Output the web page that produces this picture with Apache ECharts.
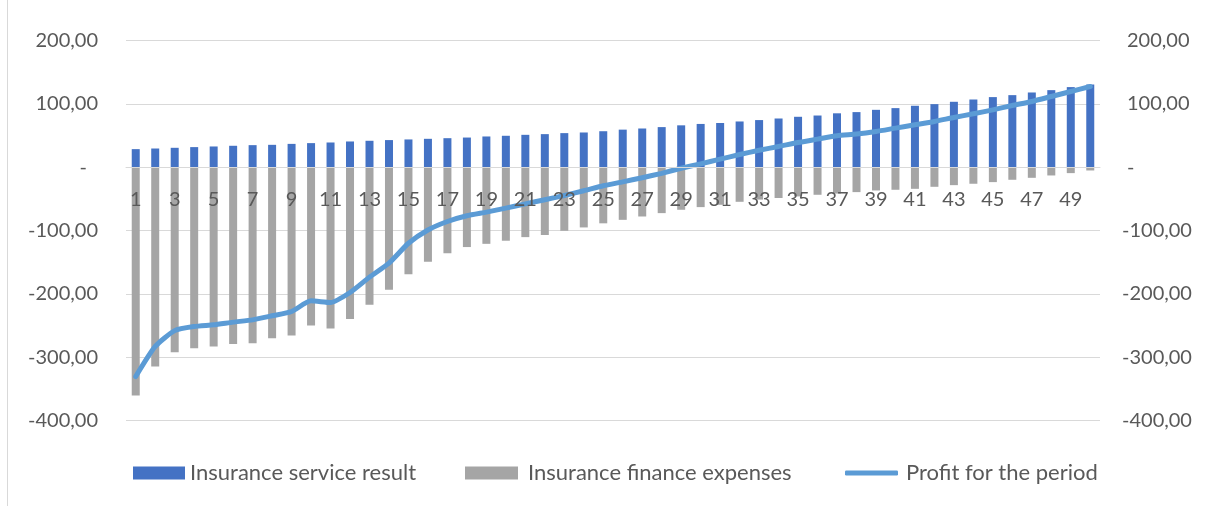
<!DOCTYPE html>
<html>
<head>
<meta charset="utf-8">
<script src="https://cdn.jsdelivr.net/npm/echarts@6/dist/echarts.min.js"></script>
<style>
  html, body { margin: 0; padding: 0; background: #ffffff; }
  #chart { width: 1209px; height: 506px; }
</style>
</head>
<body>
<div id="chart"></div>
<script>
// Periods 1..50
const periods = Array.from({ length: 50 }, (_, i) => String(i + 1));

// Insurance service result (positive bars)
const serviceResult = [
  28.7, 29.7, 30.8, 31.9, 32.9, 34.0, 35.0, 35.5, 37.0, 38.2,
  39.2, 40.8, 41.9, 43.0, 44.0, 45.0, 46.0, 47.0, 48.7, 49.8,
  51.3, 52.4, 54.0, 55.0, 57.0, 59.5, 61.3, 63.5, 66.3, 68.5,
  70.0, 72.4, 74.6, 77.1, 79.8, 81.8, 85.3, 87.2, 90.8, 93.5,
  97.2, 99.8, 103.5, 107.1, 110.9, 114.0, 118.2, 121.9, 126.7, 130.8
];

// Insurance finance expenses (negative bars)
const financeExpenses = [
  -360.5, -314.6, -292.0, -286.0, -283.0, -279.0, -277.8, -270.0, -265.7, -250.0,
  -254.6, -239.8, -217.0, -193.5, -168.8, -149.3, -135.6, -126.0, -120.9, -116.0,
  -110.3, -107.0, -100.3, -95.0, -88.5, -83.0, -77.7, -72.4, -67.1, -62.9,
  -59.2, -54.5, -51.0, -48.5, -46.0, -43.4, -41.5, -39.2, -36.6, -35.5,
  -34.0, -30.8, -28.2, -26.0, -23.4, -19.7, -16.6, -12.9, -9.2, -5.0
];

// Profit for the period (line)
const profit = [
  -330.5, -283.0, -258.0, -251.5, -248.8, -244.6, -241.0, -234.6, -227.8, -211.0,
  -213.6, -197.8, -173.5, -151.4, -120.0, -99.0, -85.6, -76.6, -70.8, -64.5,
  -57.7, -51.3, -44.5, -37.1, -29.2, -23.0, -16.5, -9.5, -1.5, 5.5,
  12.9, 20.2, 27.0, 32.9, 39.2, 44.5, 49.8, 52.5, 56.6, 61.9,
  67.1, 72.4, 78.7, 84.5, 90.8, 97.6, 104.0, 111.8, 119.7, 127.6
];

const seriesNames = ['Insurance service result', 'Insurance finance expenses', 'Profit for the period'];

const FONT = 'Lato';
const TEXT = '#595959';
const GRID = '#D9D9D9';

const Y_MIN = -400;
const Y_MAX = 200;
const GRID_TOP = 40.7;
const GRID_BOTTOM = 85.5;
const CHART_H = 506;

function fmt(v) {
  return Math.abs(v).toFixed(2).replace('.', ',');
}

// the category axis sits on the zero line of the value axis
const plotH = CHART_H - GRID_TOP - GRID_BOTTOM;
const zeroOffset = -plotH * (0 - Y_MIN) / (Y_MAX - Y_MIN);

const chart = echarts.init(document.getElementById('chart'), null, { renderer: 'canvas' });

const yCommon = {
  type: 'value',
  min: Y_MIN,
  max: Y_MAX,
  interval: 100,
  axisLine: { show: false },
  axisTick: { show: false }
};

const legendText = { color: TEXT, fontSize: 22, fontFamily: FONT, lineHeight: 24 };

chart.setOption({
  animation: false,
  backgroundColor: '#ffffff',
  textStyle: { fontFamily: FONT },
  grid: { left: 126, right: 109, top: GRID_TOP, bottom: GRID_BOTTOM, containLabel: false },
  graphic: [{
    type: 'line',
    shape: { x1: 7.5, y1: 0, x2: 7.5, y2: CHART_H },
    style: { stroke: GRID, lineWidth: 1 }
  }],
  legend: [
    {
      data: [seriesNames[0]], left: 133, top: 461, padding: 0,
      itemWidth: 52, itemHeight: 13, icon: 'rect',
      textStyle: legendText
    },
    {
      data: [seriesNames[1]], left: 465, top: 461, padding: 0,
      itemWidth: 53, itemHeight: 13, icon: 'rect',
      textStyle: Object.assign({}, legendText, { padding: [0, 0, 0, 5] })
    },
    {
      data: [seriesNames[2]], left: 845, top: 461, padding: 0,
      itemWidth: 53, itemHeight: 5, icon: 'roundRect',
      textStyle: Object.assign({}, legendText, { padding: [0, 0, 0, 3] })
    }
  ],
  xAxis: {
    type: 'category',
    data: periods,
    boundaryGap: true,
    offset: zeroOffset,
    z: 10,
    axisLine: { show: true, onZero: false, lineStyle: { color: GRID, width: 1 } },
    axisTick: { show: false },
    axisLabel: { interval: 1, margin: 22, color: TEXT, fontSize: 20, fontFamily: FONT }
  },
  yAxis: [
    Object.assign({}, yCommon, {
      position: 'left',
      splitLine: { show: true, lineStyle: { color: GRID, width: 1 } },
      axisLabel: {
        margin: 28, color: TEXT, fontSize: 20, fontFamily: FONT,
        formatter: function (v) {
          if (v === 0) return '{z|-}';
          return (v < 0 ? '-' : '') + fmt(v);
        },
        rich: { z: { color: TEXT, fontSize: 20, fontFamily: FONT, padding: [0, 11, 0, 0] } }
      }
    }),
    Object.assign({}, yCommon, {
      position: 'right',
      splitLine: { show: false },
      axisLabel: {
        margin: 22, color: TEXT, fontSize: 20, fontFamily: FONT,
        formatter: function (v) {
          if (v === 0) return '{p|-}';
          if (v < 0) return '-' + fmt(v);
          return '{p|' + fmt(v) + '}';
        },
        rich: { p: { color: TEXT, fontSize: 20, fontFamily: FONT, padding: [0, 0, 0, 5] } }
      }
    })
  ],
  series: [
    {
      name: seriesNames[0],
      type: 'bar',
      stack: 'total',
      barWidth: 8,
      itemStyle: { color: '#4472C4' },
      data: serviceResult
    },
    {
      name: seriesNames[1],
      type: 'bar',
      stack: 'total',
      barWidth: 8,
      itemStyle: { color: '#A5A5A5' },
      data: financeExpenses
    },
    {
      name: seriesNames[2],
      type: 'line',
      symbol: 'none',
      smooth: 0.2,
      itemStyle: { color: '#5B9BD5' },
      lineStyle: { color: '#5B9BD5', width: 5, cap: 'round', join: 'round' },
      data: profit,
      z: 5
    }
  ]
});
</script>
</body>
</html>
